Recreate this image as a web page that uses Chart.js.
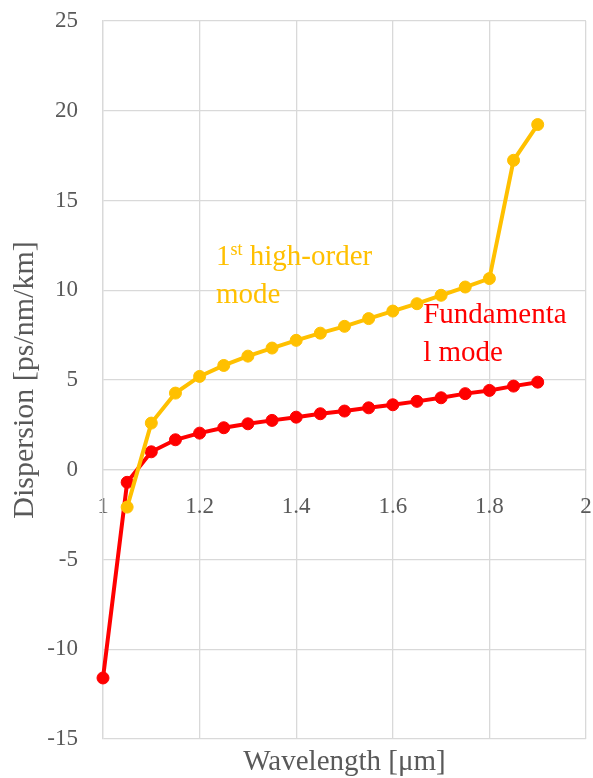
<!DOCTYPE html>
<html>
<head>
<meta charset="utf-8">
<script src="https://cdn.jsdelivr.net/npm/chart.js@4.4.1/dist/chart.umd.min.js"></script>
<style>
  html, body { margin: 0; padding: 0; background: #ffffff; }
  #wrap { width: 593px; height: 778px; }
</style>
</head>
<body>
<div id="wrap"><canvas id="chart" width="593" height="778"></canvas></div>
<script>
// Wavelength sampling (µm)
const wavelengthFundamental = [1.00, 1.05, 1.10, 1.15, 1.20, 1.25, 1.30, 1.35, 1.40, 1.45,
                               1.50, 1.55, 1.60, 1.65, 1.70, 1.75, 1.80, 1.85, 1.90];
const wavelengthHighOrder   = [1.05, 1.10, 1.15, 1.20, 1.25, 1.30, 1.35, 1.40, 1.45,
                               1.50, 1.55, 1.60, 1.65, 1.70, 1.75, 1.80, 1.85, 1.90];

// Dispersion (ps/nm/km)
const dispersionFundamental = [-11.6, -0.7, 1.0, 1.67, 2.04, 2.34, 2.56, 2.75, 2.93, 3.12,
                               3.27, 3.45, 3.62, 3.81, 4.01, 4.24, 4.42, 4.66, 4.88];
const dispersionHighOrder   = [-2.08, 2.6, 4.27, 5.2, 5.81, 6.33, 6.78, 7.21, 7.61,
                               7.99, 8.42, 8.84, 9.25, 9.72, 10.18, 10.65, 17.24, 19.23];

// Axis ranges and tick spacing
const xRange = [1, 2];
const xStep = 0.2;
const yRange = [-15, 25];
const yStep = 5;

// Axis titles and curve labels
const xTitle = 'Wavelength [μm]';
const yTitle = 'Dispersion [ps/nm/km]';
const labelHighOrder = ['1|st| high-order', 'mode'];
const labelFundamental = ['Fundamenta', 'l mode'];

const RED = '#FF0000';
const GOLD = '#FFC000';
const GRID = '#d9d9d9';
const TEXT = '#595959';
const FONT = "'Palatino Linotype', 'Book Antiqua', Palatino, 'Liberation Serif', serif";

function toPoints(xs, ys) {
  return xs.map((x, i) => ({ x: x, y: ys[i] }));
}

// Curve labels placed in data coordinates
const curveLabels = {
  id: 'curveLabels',
  afterDatasetsDraw(chart, args, opts) {
    const ctx = chart.ctx;
    const xs = chart.scales.x, ys = chart.scales.y;
    ctx.save();
    ctx.textBaseline = 'alphabetic';
    ctx.textAlign = 'left';
    opts.items.forEach(item => {
      const x0 = xs.getPixelForValue(item.x);
      let y = ys.getPixelForValue(item.y);
      ctx.fillStyle = item.color;
      item.lines.forEach(line => {
        // segments between '|' marks are superscript
        const parts = line.split('|');
        let x = x0;
        parts.forEach((p, k) => {
          const sup = k % 2 === 1;
          ctx.font = (sup ? Math.round(opts.size * 0.62) : opts.size) + 'px ' + FONT;
          ctx.fillText(p, x, sup ? y - opts.size * 0.36 : y);
          x += ctx.measureText(p).width;
        });
        y += opts.lineGap;
      });
    });
    ctx.restore();
  }
};

const tickText = v => String(Math.round(v * 10) / 10);

new Chart(document.getElementById('chart'), {
  type: 'line',
  data: {
    datasets: [
      {
        label: '1st high-order mode',
        data: toPoints(wavelengthHighOrder, dispersionHighOrder),
        borderColor: GOLD,
        backgroundColor: GOLD,
        pointBackgroundColor: GOLD,
        pointBorderColor: GOLD,
        borderWidth: 4,
        pointRadius: 6,
        pointBorderWidth: 1,
        tension: 0,
        clip: false,
        xAxisID: 'x',
        yAxisID: 'y'
      },
      {
        label: 'Fundamental mode',
        data: toPoints(wavelengthFundamental, dispersionFundamental),
        borderColor: RED,
        backgroundColor: RED,
        pointBackgroundColor: RED,
        pointBorderColor: RED,
        borderWidth: 4,
        pointRadius: 6,
        pointBorderWidth: 1,
        tension: 0,
        clip: false,
        xAxisID: 'x',
        yAxisID: 'y'
      }
    ]
  },
  options: {
    responsive: false,
    animation: false,
    layout: { padding: { top: 21, right: 6, left: 0, bottom: 0 } },
    plugins: {
      legend: { display: false },
      tooltip: { enabled: false },
      curveLabels: {
        size: 29,
        lineGap: 38,
        items: [
          { x: 1.234, y: 11.39, color: GOLD, lines: labelHighOrder },
          { x: 1.663, y: 8.2, color: RED, lines: labelFundamental }
        ]
      }
    },
    scales: {
      // tick labels sit on the zero line
      x: {
        type: 'linear',
        position: { y: 0 },
        min: xRange[0],
        max: xRange[1],
        ticks: {
          stepSize: xStep,
          color: TEXT,
          padding: 23,
          maxRotation: 0,
          font: { family: FONT, size: 23 },
          callback: tickText
        },
        grid: { color: GRID, lineWidth: 1.3, drawTicks: false },
        border: { display: true, color: GRID, width: 1.3 },
        afterFit(scale) { scale.paddingLeft = 0; scale.paddingRight = 0; }
      },
      // carries the axis title along the bottom edge
      xTitleAxis: {
        type: 'linear',
        position: 'bottom',
        min: xRange[0],
        max: xRange[1],
        ticks: { display: false },
        grid: { display: false },
        border: { display: false },
        title: {
          display: true,
          text: xTitle,
          color: TEXT,
          font: { family: FONT, size: 29, lineHeight: 1 },
          padding: { top: 0, bottom: 1 }
        },
        afterFit(scale) { scale.height = 39; scale.paddingLeft = 0; scale.paddingRight = 0; }
      },
      y: {
        type: 'linear',
        position: 'left',
        min: yRange[0],
        max: yRange[1],
        ticks: {
          stepSize: yStep,
          color: TEXT,
          padding: 25,
          font: { family: FONT, size: 23 }
        },
        grid: { color: GRID, lineWidth: 1.3, drawTicks: false },
        border: { display: true, color: GRID, width: 1.3 },
        title: {
          display: true,
          text: yTitle,
          color: TEXT,
          font: { family: FONT, size: 30, lineHeight: 1 },
          padding: { top: 10, bottom: 0 }
        },
        afterFit(scale) { scale.width = 103; scale.paddingTop = 0; scale.paddingBottom = 0; }
      }
    }
  },
  plugins: [curveLabels]
});
</script>
</body>
</html>
